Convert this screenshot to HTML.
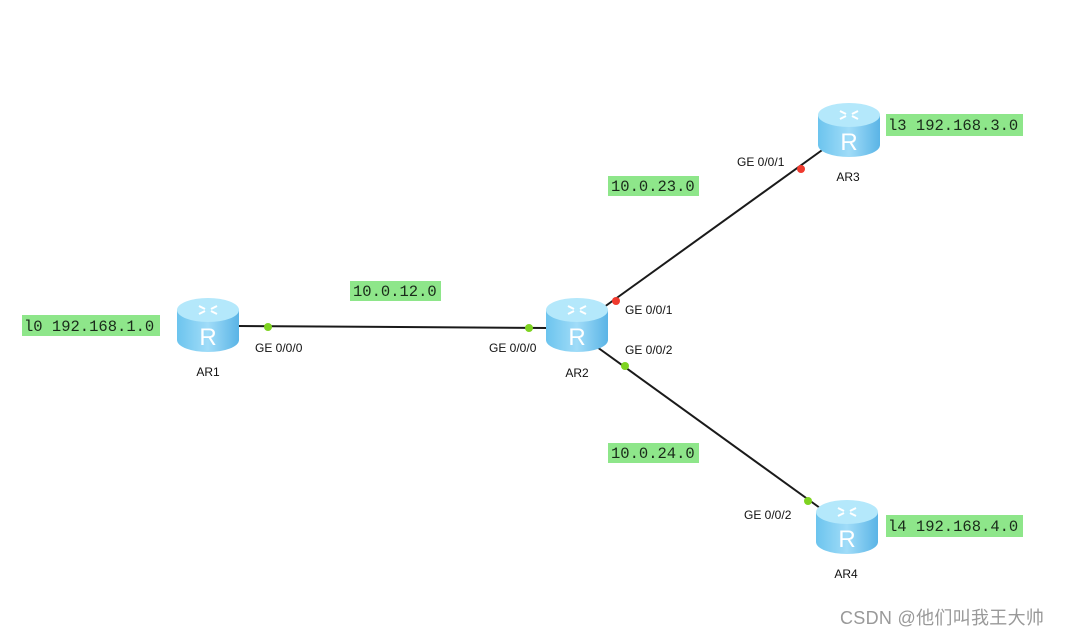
<!DOCTYPE html>
<html><head><meta charset="utf-8"><style>
html,body{margin:0;padding:0;background:#fff;}
svg{display:block;}
.lbl{font-family:"Liberation Sans",sans-serif;font-size:12px;fill:#111;}
.mono{font-family:"Liberation Mono",monospace;font-size:15.5px;fill:#1a2a1a;}
</style></head><body>
<svg width="1066" height="637" viewBox="0 0 1066 637" xmlns="http://www.w3.org/2000/svg">
<defs>
<linearGradient id="g" x1="0" x2="1" y1="0" y2="0">
<stop offset="0" stop-color="#6cc4ee"/><stop offset="0.5" stop-color="#a0dcf8"/><stop offset="1" stop-color="#5ab4e6"/>
</linearGradient>
<g id="r">
<path d="M0 12 L0 42 A31 12 0 0 0 62 42 L62 12 Z" fill="url(#g)"/>
<ellipse cx="31" cy="12" rx="31" ry="12" fill="#b4e8fb"/>
<path d="M22 8 l6 3 M40 8 l-6 3 M22 16 l6 -3 M40 16 l-6 -3" stroke="#fff" stroke-width="2"/>
<text x="31" y="47" text-anchor="middle" font-family="Liberation Sans,sans-serif" font-size="24" fill="#fff">R</text>
</g>
</defs>
<g stroke="#1a1a1a" stroke-width="2">
<line x1="238" y1="326" x2="547" y2="328"/>
<line x1="600" y1="310" x2="825" y2="148"/>
<line x1="597" y1="347" x2="820" y2="508"/>
</g>
<use href="#r" x="177" y="298"/>
<use href="#r" x="546" y="298"/>
<use href="#r" x="818" y="103"/>
<use href="#r" x="816" y="500"/>
<g>
<circle cx="268" cy="327" r="4" fill="#7ed321"/>
<circle cx="529" cy="328" r="4" fill="#7ed321"/>
<circle cx="616" cy="301" r="4" fill="#f03a2e"/>
<circle cx="801" cy="169" r="4" fill="#f03a2e"/>
<circle cx="625" cy="366" r="4" fill="#7ed321"/>
<circle cx="808" cy="501" r="4" fill="#7ed321"/>
</g>
<g class="lbl">
<text x="208" y="376" text-anchor="middle">AR1</text>
<text x="577" y="377" text-anchor="middle">AR2</text>
<text x="848" y="181" text-anchor="middle">AR3</text>
<text x="846" y="578" text-anchor="middle">AR4</text>
<text x="255" y="352">GE 0/0/0</text>
<text x="489" y="352">GE 0/0/0</text>
<text x="625" y="314">GE 0/0/1</text>
<text x="625" y="354">GE 0/0/2</text>
<text x="737" y="166">GE 0/0/1</text>
<text x="744" y="519">GE 0/0/2</text>
</g>
<g fill="#8ee68a">
<rect x="22" y="315" width="138" height="21"/>
<rect x="350" y="281" width="91" height="20"/>
<rect x="608" y="176" width="91" height="20"/>
<rect x="608" y="443" width="91" height="20"/>
<rect x="886" y="114" width="137" height="22"/>
<rect x="886" y="515" width="137" height="22"/>
</g>
<g class="mono">
<text x="24" y="331">l0 192.168.1.0</text>
<text x="353" y="296">10.0.12.0</text>
<text x="611" y="191">10.0.23.0</text>
<text x="611" y="458">10.0.24.0</text>
<text x="888" y="130">l3 192.168.3.0</text>
<text x="888" y="531">l4 192.168.4.0</text>
</g>
<text x="840" y="624" font-family="Liberation Sans,'Noto Sans CJK SC',sans-serif" font-size="18" letter-spacing="0.3" fill="#999">CSDN @他们叫我王大帅</text>
</svg>
</body></html>
